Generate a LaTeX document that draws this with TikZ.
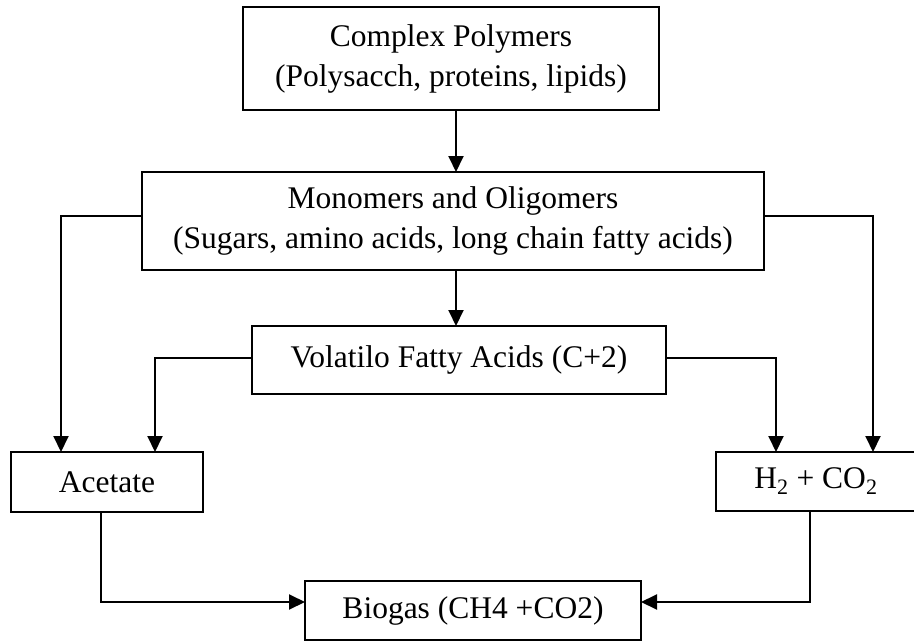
\documentclass[tikz,border=0pt]{standalone}
\usepackage{fontspec}
\setmainfont{Liberation Serif}
\usetikzlibrary{arrows.meta}
\begin{document}
\begin{tikzpicture}[x=1pt,y=-1pt,
  box/.style={draw, line width=2pt, inner sep=0pt, outer sep=0pt,
    align=center, font=\fontsize{31.5}{40}\selectfont},
  arr/.style={line width=2pt, -{Triangle[length=16pt,width=15pt]}}]
\useasboundingbox (0,0) rectangle (914,642);

% boxes of the anaerobic digestion chain
\node[box, minimum width=416pt, minimum height=103pt] (poly) at (451,58.5)
  {Complex Polymers\\(Polysacch, proteins, lipids)};
\node[box, minimum width=622pt, minimum height=98pt] (mono) at (453,221)
  {Monomers and Oligomers\\(Sugars, amino acids, long chain fatty acids)};
\node[box, minimum width=414pt, minimum height=68pt] (vfa) at (459,360)
  {Volatilo Fatty Acids (C+2)};
\node[box, minimum width=192pt, minimum height=60pt] (acet) at (107,482)
  {Acetate};
\node[box, minimum width=200pt, minimum height=59pt] (hyd) at (816,481.5)
  {H\textsubscript{2} + CO\textsubscript{2}};
\node[box, minimum width=336pt, minimum height=59pt] (bio) at (473,610.5)
  {Biogas (CH4 +CO2)};

% hydrolysis and acidogenesis
\draw[arr] ([xshift=5pt]poly.south) -- ([xshift=5pt]poly.south |- mono.north);
\draw[arr] ([xshift=3pt]mono.south) -- ([xshift=3pt]mono.south |- vfa.north);

% routes to acetate and hydrogen
\draw[arr] ([yshift=5pt]mono.west) -| ([xshift=-46pt]acet.north);
\draw[arr] ([yshift=5pt]mono.east) -| ([xshift=57pt]hyd.north);
\draw[arr] ([yshift=2pt]vfa.west) -| ([xshift=48pt]acet.north);
\draw[arr] ([yshift=2pt]vfa.east) -| ([xshift=-40pt]hyd.north);

% methanogenesis
\draw[arr] ([xshift=-6pt]acet.south) |- ([yshift=8.5pt]bio.west);
\draw[arr] ([xshift=-6pt]hyd.south) |- ([yshift=8.5pt]bio.east);
\end{tikzpicture}
\end{document}
